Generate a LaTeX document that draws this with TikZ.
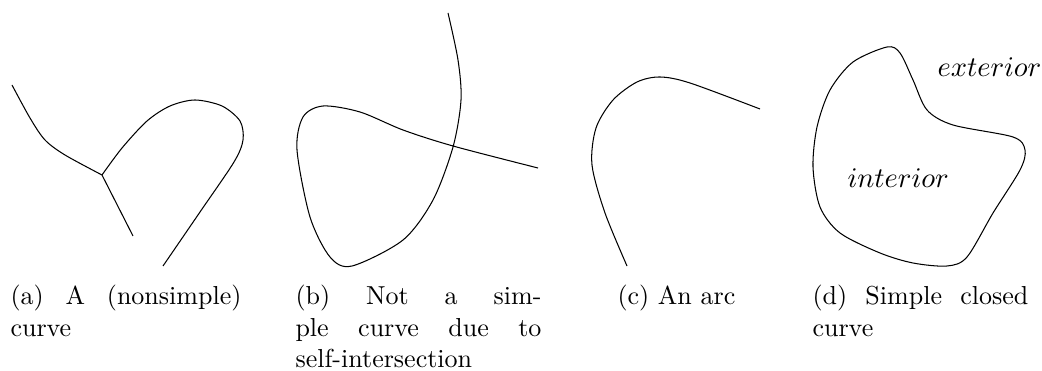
\documentclass[tikz,border=0pt]{standalone}
\usepackage{amsmath}
\usepackage{amssymb}
\usepackage{xcolor}
\usepackage{tikz}
\usetikzlibrary{positioning}
\tikzset{
  curve/.style={
    draw=black,
    line width=0.4pt
  },
  subcap/.style={
    anchor=base west,
    inner sep=0pt,
    align=justify,
    font=\fontsize{10}{12}\selectfont
  },
  region/.style={
    anchor=base west,
    inner sep=0pt,
    font=\fontsize{10.95}{13.6}\selectfont
  }
}

\begin{document}
\begin{tikzpicture}[x=0.3846pt, y=-0.3846pt]
\useasboundingbox (0,0) rectangle (1042,371);

% (a) three branches meeting in one point
\coordinate (jct) at (102,175);
\draw[curve] plot[smooth] coordinates {(12,85) (30,118) (45,140) (65,155) (jct)};
\draw[curve] (jct) -- (133,236);
\draw[curve] plot[smooth] coordinates {(jct) (122,148) (147,121) (170,106) (195,100) (222,106) (240,121) (243,140) (234,162) (200,212) (163,266)};

% (b) crosses itself
\draw[curve] plot[smooth] coordinates {(448,13) (458,60) (461,100) (453,147) (433,200) (403,240) (352,266) (330,257) (310,217) (297,150) (303,117) (323,106) (360,112) (403,130) (453,146) (538,168)};

% (c) arc
\draw[curve] plot[smooth] coordinates {(627,266) (605,213) (592,165) (596,128) (613,100) (637,82) (660,77) (690,83) (760,109)};

% (d) closed curve
\draw[curve] plot[smooth cycle] coordinates {(887,47) (900,53) (913,80) (927,110) (953,125) (1013,137) (1025,150) (1020,170) (993,213) (967,257) (947,266) (913,263) (880,253) (840,233) (820,207) (813,167) (817,127) (830,90) (853,62)};
\node[region] (ext) at (937,77) {$exterior$};
\node[region] (int) at (847,188) {$interior$};

% captions
\node[subcap, text width=88.8pt] (capa) at (10,305) {(a) A (nonsimple)\linebreak curve};
\node[subcap, text width=94.6pt] (capb) at (295,305) {(b) Not a sim-\linebreak ple curve due to\linebreak self-intersection};
\node[subcap] (capc) at (617,305) {(c) An arc};
\node[subcap, text width=83pt] (capd) at (812,305) {(d) Simple closed\linebreak curve};

\end{tikzpicture}
\end{document}
